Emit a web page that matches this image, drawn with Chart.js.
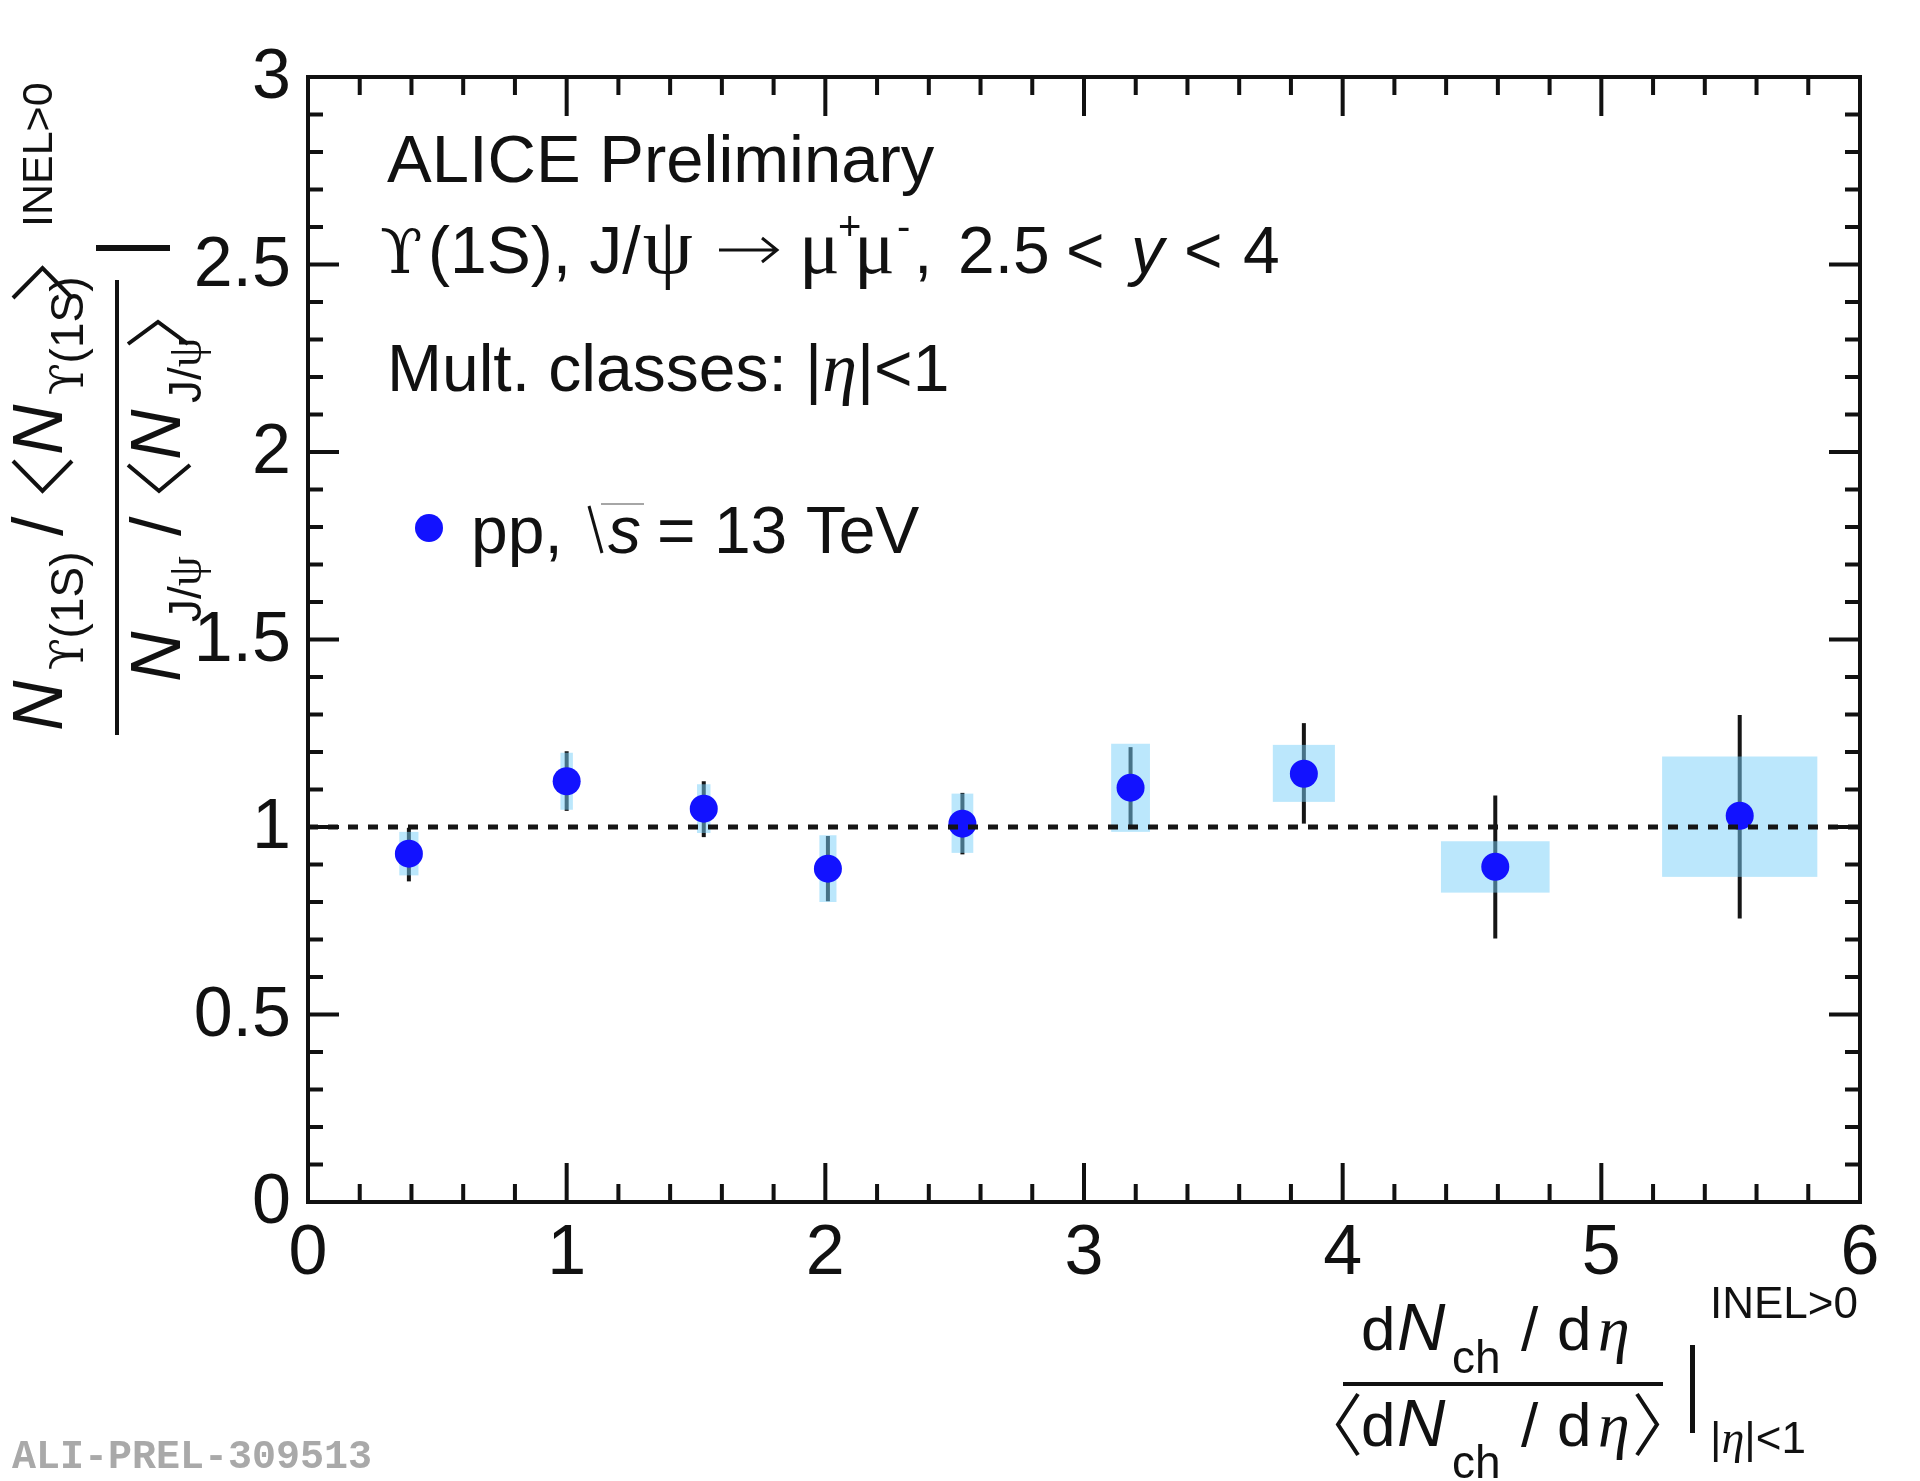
<!DOCTYPE html>
<html lang="en">
<head>
<meta charset="UTF-8"/>
<title>Upsilon(1S) / J/psi vs multiplicity</title>
<script src="https://cdn.jsdelivr.net/npm/chart.js"></script>
<style>
  html, body { margin: 0; padding: 0; background: #fff; }
  canvas { display: block; }
</style>
</head>
<body>
<canvas id="ratioChart" width="1920" height="1481"></canvas>
<script>
// values
const multX   = [0.39, 1.00, 1.53, 2.01, 2.53, 3.18, 3.85, 4.59, 5.535];
const ratioY  = [0.929, 1.122, 1.049, 0.889, 1.009, 1.105, 1.142, 0.894, 1.030];
const statLo  = [0.855, 1.043, 0.973, 0.802, 0.927, 0.996, 1.009, 0.703, 0.756];
const statHi  = [0.998, 1.202, 1.122, 0.976, 1.091, 1.213, 1.277, 1.084, 1.299];
const sysLo   = [0.871, 1.046, 0.984, 0.800, 0.931, 0.987, 1.067, 0.825, 0.867];
const sysHi   = [0.987, 1.198, 1.114, 0.978, 1.089, 1.222, 1.219, 0.962, 1.188];
const sysHalf = [0.037, 0.024, 0.026, 0.033, 0.042, 0.075, 0.120, 0.210, 0.300];

const xRange = [0, 6];
const yRange = [0, 3];
const xTicks = [0, 1, 2, 3, 4, 5, 6];
const xTickLabels = ['0', '1', '2', '3', '4', '5', '6'];
const yTicks = [0, 0.5, 1, 1.5, 2, 2.5, 3];
const yTickLabels = ['0', '0.5', '1', '1.5', '2', '2.5', '3'];
const xMinorPerMajor = 5;
const yMinorPerMajor = 5;
const refLevel = 1;

const SANS = "'Liberation Sans', Arial, sans-serif";
const SERIF = "'Liberation Serif', 'DejaVu Serif', serif";
const UPS = "'DejaVu Serif', serif";
const markerColor = '#1212ff';

// draw a row of text pieces one after the other
function run(ctx, x, y, parts) {
    for (const p of parts) {
        if (p.gap) { x += p.gap; continue; }
        ctx.font = p.f;
        ctx.fillText(p.t, x, y + (p.dy || 0));
        x += ctx.measureText(p.t).width;
    }
    return x;
}

// pieces placed at given x positions
function place(ctx, y, parts) {
    for (const p of parts) {
        ctx.font = p.f;
        ctx.fillText(p.t, p.x, y + (p.dy || 0));
    }
}

// angle bracket as two strokes, vertex at x0, arms at x1
function bracket(ctx, x0, x1, top, bottom) {
    ctx.beginPath();
    ctx.moveTo(x1, top);
    ctx.lineTo(x0, (top + bottom) / 2);
    ctx.lineTo(x1, bottom);
    ctx.stroke();
}

const errorPlugin = {
    id: 'errors',
    beforeDatasetsDraw(chart) {
        const { ctx, chartArea: a, scales: { x, y } } = chart;
        ctx.save();
        ctx.beginPath();
        ctx.rect(a.left, a.top, a.right - a.left, a.bottom - a.top);
        ctx.clip();
        // statistical
        ctx.strokeStyle = '#151515';
        ctx.lineWidth = 4;
        for (let i = 0; i < multX.length; i++) {
            const px = x.getPixelForValue(multX[i]);
            ctx.beginPath();
            ctx.moveTo(px, y.getPixelForValue(statLo[i]));
            ctx.lineTo(px, y.getPixelForValue(statHi[i]));
            ctx.stroke();
        }
        // systematic
        ctx.fillStyle = 'rgba(119, 208, 249, 0.5)';
        for (let i = 0; i < multX.length; i++) {
            const x1 = x.getPixelForValue(multX[i] - sysHalf[i]);
            const x2 = x.getPixelForValue(multX[i] + sysHalf[i]);
            const y1 = y.getPixelForValue(sysHi[i]);
            const y2 = y.getPixelForValue(sysLo[i]);
            ctx.fillRect(x1, y1, x2 - x1, y2 - y1);
        }
        ctx.restore();
    }
};

const framePlugin = {
    id: 'frame',
    afterDraw(chart) {
        const { ctx, chartArea: a, scales: { x, y } } = chart;
        ctx.save();
        ctx.strokeStyle = '#111';
        ctx.fillStyle = '#111';
        ctx.lineWidth = 4;
        ctx.lineCap = 'butt';

        // ticks, all four sides, pointing in
        ctx.beginPath();
        const xMinStep = (xTicks[1] - xTicks[0]) / xMinorPerMajor;
        const nx = Math.round((xRange[1] - xRange[0]) / xMinStep);
        for (let k = 1; k < nx; k++) {
            const px = x.getPixelForValue(xRange[0] + k * xMinStep);
            const len = (k % xMinorPerMajor === 0) ? 39 : 18;
            ctx.moveTo(px, a.bottom); ctx.lineTo(px, a.bottom - len);
            ctx.moveTo(px, a.top); ctx.lineTo(px, a.top + len);
        }
        const yMinStep = (yTicks[1] - yTicks[0]) / yMinorPerMajor;
        const ny = Math.round((yRange[1] - yRange[0]) / yMinStep);
        for (let k = 1; k < ny; k++) {
            const py = y.getPixelForValue(yRange[0] + k * yMinStep);
            const len = (k % yMinorPerMajor === 0) ? 31 : 15;
            ctx.moveTo(a.left, py); ctx.lineTo(a.left + len, py);
            ctx.moveTo(a.right, py); ctx.lineTo(a.right - len, py);
        }
        ctx.stroke();
        ctx.lineJoin = 'miter';
        ctx.strokeRect(a.left, a.top, a.right - a.left, a.bottom - a.top);

        // tick labels
        ctx.font = '70px ' + SANS;
        ctx.textAlign = 'center';
        ctx.textBaseline = 'alphabetic';
        xTicks.forEach((v, i) => ctx.fillText(xTickLabels[i], x.getPixelForValue(v), a.bottom + 72));
        ctx.textAlign = 'right';
        ctx.textBaseline = 'middle';
        yTicks.forEach((v, i) => ctx.fillText(yTickLabels[i], a.left - 17, y.getPixelForValue(v) + 2));

        ctx.textAlign = 'left';
        ctx.textBaseline = 'alphabetic';

        // labels inside the frame
        run(ctx, 387, 182, [{ t: 'ALICE Preliminary', f: '67px ' + SANS }]);
        const f66 = '66px ' + SANS;
        run(ctx, 428, 273, [
            { t: '(1S), J/', f: f66 },
            { gap: 2 },
            { t: 'ψ', f: '80px ' + SERIF }
        ]);
        place(ctx, 273, [
            { t: 'ϒ', f: '62px ' + UPS, x: 380 },
            { t: 'μ', f: '76px ' + SERIF, x: 799 },
            { t: '+', f: '40px ' + SANS, x: 838, dy: -33 },
            { t: 'μ', f: '76px ' + SERIF, x: 854 },
            { t: '-', f: '40px ' + SANS, x: 897, dy: -33 },
            { t: ',', f: f66, x: 914 },
            { t: '2.5', f: f66, x: 958 },
            { t: '<', f: f66, x: 1066 },
            { t: 'y', f: 'italic 66px ' + SANS, x: 1131 },
            { t: '<', f: f66, x: 1184 },
            { t: '4', f: f66, x: 1243 }
        ]);
        // arrow
        ctx.lineWidth = 3;
        ctx.beginPath();
        ctx.moveTo(719, 250); ctx.lineTo(776, 250);
        ctx.moveTo(762, 238); ctx.lineTo(777, 250); ctx.lineTo(762, 262);
        ctx.stroke();

        run(ctx, 387, 391, [
            { t: 'Mult. classes: |', f: f66 },
            { t: 'η', f: 'italic 70px ' + SERIF },
            { t: '|<1', f: f66 }
        ]);

        // legend
        ctx.fillStyle = markerColor;
        ctx.beginPath();
        ctx.arc(429, 528, 14, 0, Math.PI * 2);
        ctx.fill();
        ctx.fillStyle = '#111';
        place(ctx, 553, [
            { t: 'pp,', f: f66, x: 471 },
            { t: 's', f: 'italic 66px ' + SANS, x: 608 },
            { t: '= 13 TeV', f: f66, x: 657 }
        ]);
        ctx.lineWidth = 3;
        ctx.beginPath();
        ctx.moveTo(589, 506); ctx.lineTo(602, 553);
        ctx.stroke();
        ctx.lineWidth = 1.5;
        ctx.strokeStyle = '#888';
        ctx.beginPath();
        ctx.moveTo(601, 504); ctx.lineTo(644, 504);
        ctx.stroke();

        // x title
        ctx.strokeStyle = '#111';
        ctx.fillStyle = '#111';
        const xt = (base, subBase) => {
            place(ctx, base, [
                { t: 'd', f: '62px ' + SANS, x: 1361 },
                { t: 'N', f: 'italic 67px ' + SANS, x: 1397 },
                { t: '/', f: '62px ' + SANS, x: 1521 },
                { t: 'd', f: '62px ' + SANS, x: 1557 },
                { t: 'η', f: 'italic 64px ' + SERIF, x: 1598 }
            ]);
            place(ctx, subBase, [{ t: 'ch', f: '46px ' + SANS, x: 1452 }]);
        };
        xt(1350, 1373);
        xt(1446, 1478);
        ctx.lineWidth = 4;
        bracket(ctx, 1338, 1358, 1394, 1455);
        bracket(ctx, 1657, 1637, 1394, 1455);
        ctx.fillRect(1343, 1382, 320, 4);
        ctx.fillRect(1690, 1345, 5, 88);
        run(ctx, 1710, 1318, [{ t: 'INEL>0', f: '44px ' + SANS }]);
        run(ctx, 1710, 1453, [
            { t: '|', f: '44px ' + SANS },
            { t: 'η', f: 'italic 46px ' + SERIF },
            { t: '|<1', f: '44px ' + SANS }
        ]);

        // y title, rotated: u = -screenY, v = screenX
        ctx.save();
        ctx.rotate(-Math.PI / 2);
        const nN = 'italic 70px ' + SANS;
        // numerator
        run(ctx, -731, 62, [{ t: 'N', f: nN }]);
        run(ctx, -670, 83, [{ t: 'ϒ', f: '46px ' + UPS }, { t: '(1S)', f: '46px ' + SANS }]);
        run(ctx, -536, 62, [{ t: '/', f: '70px ' + SANS }]);
        run(ctx, -455, 62, [{ t: 'N', f: nN }]);
        run(ctx, -395, 83, [{ t: 'ϒ', f: '46px ' + UPS }, { t: '(1S)', f: '46px ' + SANS }]);
        bracket(ctx, -491, -461, 13, 72);
        bracket(ctx, -268, -298, 13, 72);
        // denominator
        run(ctx, -682, 180, [{ t: 'N', f: nN }]);
        run(ctx, -622, 201, [{ t: 'J/', f: '46px ' + SANS }, { t: 'ψ', f: '48px ' + SERIF }]);
        run(ctx, -536, 180, [{ t: '/', f: '70px ' + SANS }]);
        run(ctx, -460, 180, [{ t: 'N', f: nN }]);
        run(ctx, -403, 201, [{ t: 'J/', f: '46px ' + SANS }, { t: 'ψ', f: '48px ' + SERIF }]);
        bracket(ctx, -491, -465, 128, 190);
        bracket(ctx, -322, -344, 128, 188);
        run(ctx, -227, 52, [{ t: 'INEL>0', f: '43px ' + SANS }]);
        ctx.restore();
        ctx.fillRect(115, 280, 4, 455);
        ctx.fillRect(96, 245, 74, 6);

        // preliminary id
        ctx.fillStyle = '#a9a9a9';
        run(ctx, 12, 1468, [{ t: 'ALI-PREL-309513', f: 'bold 40px ' + "'Liberation Mono', 'DejaVu Sans Mono', monospace" }]);
        ctx.restore();
    }
};

const points = multX.map((v, i) => ({ x: v, y: ratioY[i] }));
const refLine = xRange.map(v => ({ x: v, y: refLevel }));

new Chart(document.getElementById('ratioChart').getContext('2d'), {
    type: 'scatter',
    data: {
        datasets: [{
            label: 'pp, sqrt(s) = 13 TeV',
            data: points,
            pointRadius: 14,
            pointHoverRadius: 14,
            backgroundColor: markerColor,
            borderWidth: 0,
            order: 1
        }, {
            type: 'line',
            label: 'unity',
            data: refLine,
            borderColor: '#151515',
            borderWidth: 5,
            borderDash: [10, 10],
            pointRadius: 0,
            fill: false,
            order: 0
        }]
    },
    options: {
        responsive: false,
        devicePixelRatio: 1,
        animation: false,
        layout: { padding: { left: 308, right: 60, top: 77, bottom: 279 } },
        plugins: { legend: { display: false }, tooltip: { enabled: false } },
        scales: {
            x: { type: 'linear', min: xRange[0], max: xRange[1], display: false },
            y: { type: 'linear', min: yRange[0], max: yRange[1], display: false }
        }
    },
    plugins: [errorPlugin, framePlugin]
});
</script>
</body>
</html>
